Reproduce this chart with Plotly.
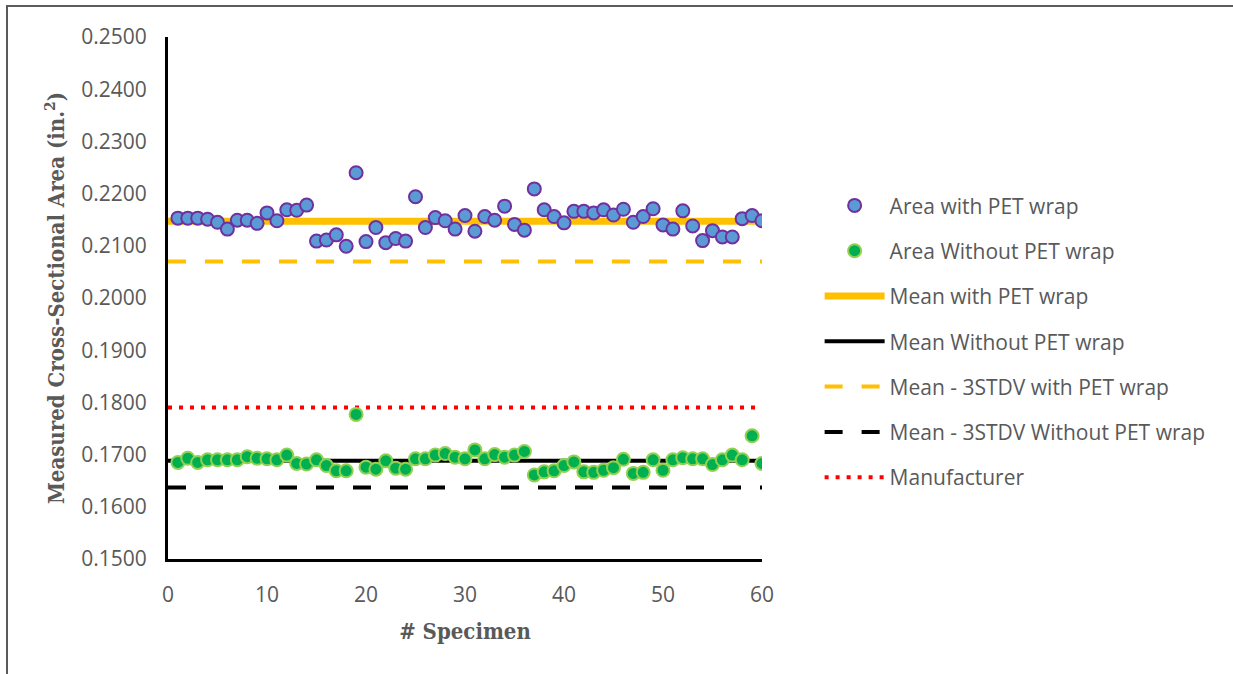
import plotly.graph_objects as go

# Specimen numbers
specimen = list(range(1, 61))

# Measured cross-sectional area (in.^2), specimens wrapped in PET film
area_with_pet = [
    0.2153, 0.2153, 0.2153, 0.2151, 0.2145, 0.2132, 0.2149, 0.2149, 0.2143, 0.2163,
    0.2148, 0.2169, 0.2168, 0.2178, 0.2109, 0.2111, 0.2121, 0.2099, 0.2240, 0.2108,
    0.2135, 0.2106, 0.2114, 0.2109, 0.2194, 0.2135, 0.2154, 0.2148, 0.2132, 0.2158,
    0.2128, 0.2156, 0.2149, 0.2176, 0.2141, 0.2130, 0.2209, 0.2169, 0.2156, 0.2144,
    0.2166, 0.2166, 0.2163, 0.2169, 0.2159, 0.2170, 0.2145, 0.2156, 0.2171, 0.2140,
    0.2132, 0.2167, 0.2138, 0.2110, 0.2129, 0.2117, 0.2117, 0.2152, 0.2158, 0.2148,
]

# Measured cross-sectional area (in.^2), bare specimens
area_without_pet = [
    0.1685, 0.1693, 0.1685, 0.1690, 0.1690, 0.1690, 0.1690, 0.1696, 0.1693, 0.1692,
    0.1690, 0.1699, 0.1683, 0.1682, 0.1690, 0.1679, 0.1669, 0.1669, 0.1777, 0.1676,
    0.1672, 0.1688, 0.1674, 0.1672, 0.1692, 0.1692, 0.1699, 0.1702, 0.1695, 0.1692,
    0.1709, 0.1692, 0.1700, 0.1695, 0.1699, 0.1706, 0.1661, 0.1667, 0.1669, 0.1679,
    0.1686, 0.1667, 0.1666, 0.1670, 0.1675, 0.1691, 0.1664, 0.1666, 0.1690, 0.1670,
    0.1690, 0.1694, 0.1692, 0.1692, 0.1681, 0.1690, 0.1699, 0.1690, 0.1736, 0.1683,
]

# Reference levels drawn across the full specimen range
ref_x = [0, 60]
mean_with_pet = 0.2147
mean_without_pet = 0.1688
mean_3sd_with_pet = 0.2070
mean_3sd_without_pet = 0.1637
manufacturer = 0.1790

# Axis ticks
x_ticks = [0, 10, 20, 30, 40, 50, 60]
y_ticks = [0.15, 0.16, 0.17, 0.18, 0.19, 0.20, 0.21, 0.22, 0.23, 0.24, 0.25]

GREY = "#595959"
TICK_FONT = dict(family="Open Sans, Noto Sans, sans-serif", size=21, color=GREY)
TITLE_FONT = dict(family="DejaVu Serif Condensed, Liberation Serif, serif", size=22, color=GREY)

fig = go.Figure()

# Reference lines first so the markers sit on top
fig.add_trace(go.Scatter(
    x=ref_x, y=[mean_with_pet] * 2, mode="lines", name="Mean with PET wrap",
    line=dict(color="#FFC000", width=7), legendgroup="c", legendrank=3,
))
fig.add_trace(go.Scatter(
    x=ref_x, y=[mean_without_pet] * 2, mode="lines", name="Mean Without PET wrap",
    line=dict(color="#000000", width=4), legendgroup="d", legendrank=4,
))
fig.add_trace(go.Scatter(
    x=ref_x, y=[mean_3sd_with_pet] * 2, mode="lines", name="Mean - 3STDV with PET wrap",
    line=dict(color="#FFC000", width=4, dash="18px,19px"), legendgroup="e", legendrank=5,
))
fig.add_trace(go.Scatter(
    x=ref_x, y=[mean_3sd_without_pet] * 2, mode="lines", name="Mean - 3STDV Without PET wrap",
    line=dict(color="#000000", width=4, dash="18px,19px"), legendgroup="f", legendrank=6,
))
fig.add_trace(go.Scatter(
    x=ref_x, y=[manufacturer] * 2, mode="lines", name="Manufacturer",
    line=dict(color="#FF0000", width=4, dash="4px,7px"), legendgroup="g", legendrank=7,
))

# Measured specimens
fig.add_trace(go.Scatter(
    x=specimen, y=area_with_pet, mode="markers", name="Area with PET wrap",
    marker=dict(size=13, color="#5B9BD5", line=dict(color="#7030A0", width=2)),
    legendgroup="a", legendrank=1,
))
fig.add_trace(go.Scatter(
    x=specimen, y=area_without_pet, mode="markers", name="Area Without PET wrap",
    marker=dict(size=13, color="#00B050", line=dict(color="#92D050", width=2)),
    legendgroup="b", legendrank=2,
))

fig.update_xaxes(
    range=[0, 60], tickvals=x_ticks, showgrid=False, zeroline=False,
    showline=True, linecolor="#000000", linewidth=3,
    ticks="outside", ticklen=15, tickcolor="rgba(0,0,0,0)",
    tickfont=TICK_FONT,
    title=dict(text="<b># Specimen</b>", font=TITLE_FONT, standoff=17),
)
fig.update_yaxes(
    range=[0.15, 0.25], tickvals=y_ticks, tickformat=".4f",
    showgrid=False, zeroline=False,
    showline=True, linecolor="#000000", linewidth=3,
    ticks="outside", ticklen=14, tickcolor="rgba(0,0,0,0)",
    tickfont=TICK_FONT,
    title=dict(text="<b>Measured Cross-Sectional Area (in.<sup>2</sup>)</b>", font=TITLE_FONT, standoff=11),
)

# Frame lines along the top and left edges of the chart area
fig.add_shape(type="line", xref="paper", yref="paper",
              x0=(6 - 168) / 594, x1=(1233 - 168) / 594,
              y0=(559 - 6) / 522, y1=(559 - 6) / 522,
              line=dict(color="#262626", width=1.5))
fig.add_shape(type="line", xref="paper", yref="paper",
              x0=(7 - 168) / 594, x1=(7 - 168) / 594,
              y0=(559 - 680) / 522, y1=(559 - 6) / 522,
              line=dict(color=GREY, width=2))

fig.update_layout(
    width=1233, height=674,
    margin=dict(l=168, r=471, t=37, b=115),
    plot_bgcolor="white", paper_bgcolor="white",
    showlegend=True,
    legend=dict(
        x=1.097, y=0.716, xanchor="left", yanchor="top",
        font=dict(family="Open Sans, Noto Sans, sans-serif", size=21, color=GREY),
        traceorder="grouped", tracegroupgap=15, itemwidth=60,
        bgcolor="rgba(0,0,0,0)",
    ),
)

fig.write_html("out.html")
